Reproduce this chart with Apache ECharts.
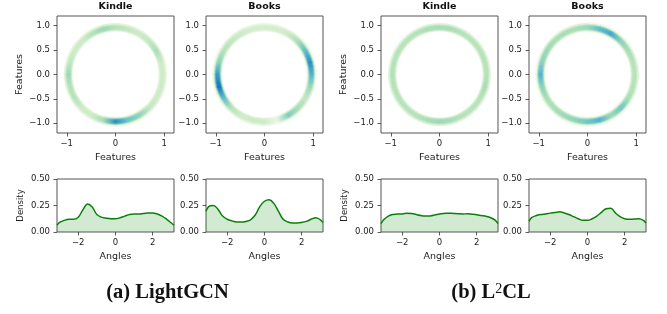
<!DOCTYPE html>
<html>
<head>
<meta charset="utf-8">
<script src="https://cdn.jsdelivr.net/npm/echarts@6/dist/echarts.min.js"></script>
<style>
  html, body { margin: 0; padding: 0; background: #fff; }
  #chart { width: 667px; height: 314px; }
</style>
</head>
<body>
<div id="chart"></div>
<script>
  const ringAngles = [0, 15, 30, 45, 60, 75, 90, 105, 120, 135, 150, 165, 180, 195, 210, 225, 240, 255, 270, 285, 300, 315, 330, 345]
  const kindleLgcnRing = [0.3, 0.3, 0.45, 0.35, 0.3, 0.35, 0.4, 0.5, 0.4, 0.3, 0.3, 0.35, 0.5, 0.4, 0.4, 0.3, 0.3, 0.45, 0.9, 0.65, 0.55, 0.35, 0.3, 0.3]
  const booksLgcnRing = [0.75, 0.9, 0.7, 0.45, 0.3, 0.25, 0.25, 0.25, 0.3, 0.35, 0.4, 0.55, 0.85, 1.0, 0.7, 0.4, 0.3, 0.3, 0.3, 0.1, 0.6, 0.45, 0.35, 0.5]
  const kindleL2clRing = [0.4, 0.4, 0.4, 0.4, 0.4, 0.45, 0.45, 0.45, 0.4, 0.4, 0.4, 0.4, 0.42, 0.4, 0.4, 0.4, 0.4, 0.45, 0.5, 0.45, 0.4, 0.4, 0.4, 0.45]
  const booksL2clRing = [0.4, 0.4, 0.45, 0.55, 0.8, 0.7, 0.5, 0.45, 0.45, 0.45, 0.5, 0.55, 0.75, 0.55, 0.45, 0.45, 0.5, 0.55, 0.65, 0.75, 0.5, 0.65, 0.45, 0.4]

  // angle density curves
  const angleGrid = [-3.14, -3, -2.75, -2.5, -2.25, -2, -1.75, -1.5, -1.25, -1, -0.75, -0.5, -0.25, 0, 0.25, 0.5, 0.75, 1, 1.25, 1.5, 1.75, 2, 2.25, 2.5, 2.75, 3, 3.14]
  const kindleLgcnDensity = [0.065, 0.09, 0.11, 0.12, 0.12, 0.14, 0.21, 0.265, 0.235, 0.165, 0.14, 0.13, 0.125, 0.125, 0.135, 0.15, 0.165, 0.17, 0.17, 0.175, 0.18, 0.18, 0.17, 0.15, 0.12, 0.085, 0.065]
  const booksLgcnDensity = [0.195, 0.24, 0.25, 0.215, 0.15, 0.12, 0.105, 0.095, 0.095, 0.1, 0.115, 0.16, 0.24, 0.29, 0.305, 0.27, 0.195, 0.12, 0.095, 0.085, 0.085, 0.09, 0.1, 0.12, 0.135, 0.115, 0.09]
  const kindleL2clDensity = [0.08, 0.115, 0.15, 0.165, 0.17, 0.17, 0.178, 0.175, 0.165, 0.155, 0.15, 0.152, 0.16, 0.17, 0.175, 0.178, 0.175, 0.172, 0.17, 0.172, 0.168, 0.163, 0.155, 0.148, 0.135, 0.11, 0.08]
  const booksL2clDensity = [0.1, 0.135, 0.155, 0.165, 0.17, 0.178, 0.183, 0.19, 0.18, 0.165, 0.145, 0.125, 0.11, 0.11, 0.125, 0.15, 0.185, 0.22, 0.225, 0.18, 0.145, 0.125, 0.12, 0.122, 0.125, 0.11, 0.085]

  const titles = ['Kindle', 'Books', 'Kindle', 'Books']
  const featureTicks = [-1, 0, 1]
  const featureYTicks = [-1, -0.5, 0, 0.5, 1]
  const angleTicks = [-2, 0, 2]

  const rings = [kindleLgcnRing, booksLgcnRing, kindleL2clRing, booksL2clRing]
  const densities = [kindleLgcnDensity, booksLgcnDensity, kindleL2clDensity, booksL2clDensity]

  const lefts = [57, 206, 381, 529]
  const W = 117
  const tickColor = '#333'
  const frameColor = '#555'
  const sans = 'DejaVu Sans'

  // GnBu colormap
  const GNBU = ['#f7fcf0', '#e0f3db', '#ccebc5', '#a8ddb5', '#7bccc4', '#4eb3d3', '#2b8cbe', '#0868ac', '#084081']
  const hex = (h) => [1, 3, 5].map((i) => parseInt(h.substr(i, 2), 16))
  const cmap = (t) => {
    t = Math.max(0, Math.min(1, t))
    const x = t * (GNBU.length - 1)
    const i = Math.min(Math.floor(x), GNBU.length - 2)
    const f = x - i
    const a = hex(GNBU[i])
    const b = hex(GNBU[i + 1])
    const c = a.map((v, k) => Math.round(v + (b[k] - v) * f))
    return 'rgb(' + c.join(',') + ')'
  }

  const minus = (s) => s.replace('-', '\u2212')

  const chart = echarts.init(document.getElementById('chart'), null, { renderer: 'canvas' })

  const grids = []
  const xAxes = []
  const yAxes = []
  const series = []
  const graphics = []

  const axisCommon = {
    axisLine: { show: false, onZero: false },
    splitLine: { show: false },
    axisTick: { show: true, inside: false, length: 3.5, lineStyle: { color: tickColor, width: 0.8 } },
    nameTextStyle: { fontFamily: sans, fontSize: 9.5, color: '#222' }
  }
  const labelStyle = { fontFamily: sans, fontSize: 8.5, color: '#222' }

  // ring band radii
  const bandEdges = []
  for (let r = 0.87; r <= 1.071; r += 0.02) bandEdges.push(r)

  const ringRender = (params, api) => {
    const a0 = api.value(0)
    const a1 = a0 + 15
    const v0 = api.value(1)
    const v1 = api.value(2)
    const children = []
    const pt = (r, deg) => {
      const t = (deg * Math.PI) / 180
      return api.coord([r * Math.cos(t), r * Math.sin(t)])
    }
    for (let b = 0; b < bandEdges.length - 1; b++) {
      const rin = bandEdges[b]
      const rout = bandEdges[b + 1]
      const rm = (rin + rout) / 2
      const p = Math.exp(-Math.pow((rm - 0.97) / 0.07, 4))
      const t0 = 0.85 * v0 * p
      const t1 = 0.85 * v1 * p
      if (Math.max(t0, t1) < 0.03) continue
      const pts = []
      for (let s = 0; s <= 5; s++) pts.push(pt(rout, a0 + s * 3))
      for (let s = 5; s >= 0; s--) pts.push(pt(rin, a0 + s * 3))
      const g0 = pt(rm, a0)
      const g1 = pt(rm, a1)
      const grad = new echarts.graphic.LinearGradient(g0[0], g0[1], g1[0], g1[1], [
        { offset: 0, color: cmap(t0) },
        { offset: 1, color: cmap(t1) }
      ], true)
      children.push({
        type: 'polygon',
        shape: { points: pts },
        style: { fill: grad, stroke: grad, lineWidth: 0.6 }
      })
    }
    return { type: 'group', children }
  }

  for (let i = 0; i < 4; i++) {
    // top: ring
    grids.push({ left: lefts[i], top: 16, width: W, height: 117, show: true, borderColor: frameColor, borderWidth: 1 })
    xAxes.push({
      ...axisCommon,
      gridIndex: 2 * i,
      type: 'value',
      min: -1.2,
      max: 1.2,
      name: 'Features',
      nameLocation: 'middle',
      nameGap: 20,
      axisTick: { ...axisCommon.axisTick, customValues: featureTicks },
      axisLabel: { ...labelStyle, customValues: featureTicks, margin: 6, formatter: (v) => minus(String(v)) }
    })
    yAxes.push({
      ...axisCommon,
      gridIndex: 2 * i,
      type: 'value',
      min: -1.2,
      max: 1.2,
      name: i % 2 === 0 ? 'Features' : '',
      nameLocation: 'middle',
      nameGap: 32,
      axisTick: { ...axisCommon.axisTick, customValues: featureYTicks },
      axisLabel: { ...labelStyle, customValues: featureYTicks, margin: 7, formatter: (v) => minus(v.toFixed(1)) }
    })
    series.push({
      type: 'custom',
      xAxisIndex: 2 * i,
      yAxisIndex: 2 * i,
      renderItem: ringRender,
      silent: true,
      data: ringAngles.map((a, k) => [a, rings[i][k], rings[i][(k + 1) % ringAngles.length]])
    })

    // bottom: angle density
    grids.push({ left: lefts[i], top: 179, width: W, height: 53, show: true, borderColor: frameColor, borderWidth: 1 })
    xAxes.push({
      ...axisCommon,
      gridIndex: 2 * i + 1,
      type: 'value',
      min: -Math.PI,
      max: Math.PI,
      name: 'Angles',
      nameLocation: 'middle',
      nameGap: 20,
      axisTick: { ...axisCommon.axisTick, customValues: angleTicks },
      axisLabel: { ...labelStyle, customValues: angleTicks, margin: 6, formatter: (v) => minus(String(v)) }
    })
    yAxes.push({
      ...axisCommon,
      gridIndex: 2 * i + 1,
      type: 'value',
      min: 0,
      max: 0.5,
      interval: 0.25,
      name: i % 2 === 0 ? 'Density' : '',
      nameLocation: 'middle',
      nameGap: 32,
      nameTextStyle: { fontFamily: sans, fontSize: 8.5, color: '#222' },
      axisLabel: { ...labelStyle, margin: 7, formatter: (v) => v.toFixed(2) }
    })
    series.push({
      type: 'line',
      xAxisIndex: 2 * i + 1,
      yAxisIndex: 2 * i + 1,
      data: angleGrid.map((a, k) => [a, densities[i][k]]),
      smooth: 0.4,
      showSymbol: false,
      silent: true,
      lineStyle: { color: '#0a800a', width: 1.5 },
      areaStyle: { color: 'rgba(0,128,0,0.25)' }
    })

    graphics.push({
      type: 'text',
      x: lefts[i] + W / 2,
      y: 6.5,
      style: { text: titles[i], font: 'bold 9.5px "DejaVu Sans"', fill: '#111', textAlign: 'center', textVerticalAlign: 'middle' }
    })
  }

  graphics.push({
    type: 'text',
    x: 167.5,
    y: 293,
    style: { text: '(a) LightGCN', font: 'bold 20.5px "Liberation Serif"', fill: '#111', textAlign: 'center', textVerticalAlign: 'middle' }
  })
  graphics.push({
    type: 'text',
    x: 491,
    y: 293,
    style: {
      text: '{a|(b) L}{s|2}{a|CL}',
      textAlign: 'center',
      textVerticalAlign: 'middle',
      rich: {
        a: { font: 'bold 20.5px "Liberation Serif"', fill: '#111', color: '#111' },
        s: { font: '14px "Liberation Serif"', fill: '#111', color: '#111', verticalAlign: 'top', padding: [0, 0, 8, 0] }
      }
    }
  })

  chart.setOption({
    animation: false,
    backgroundColor: '#fff',
    grid: grids,
    xAxis: xAxes,
    yAxis: yAxes,
    series,
    graphic: graphics
  })
</script>
</body>
</html>
